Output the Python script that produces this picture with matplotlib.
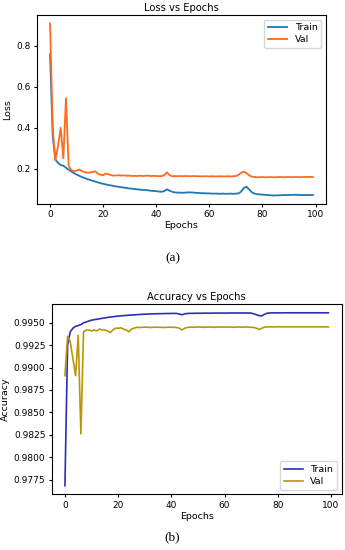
import matplotlib
matplotlib.use("Agg")
import matplotlib.pyplot as plt

# per-epoch values
epochs = list(range(100))

train_loss = [
    0.760, 0.360, 0.245, 0.228, 0.218, 0.214, 0.205, 0.195, 0.186, 0.178,
    0.171, 0.165, 0.159, 0.154, 0.149, 0.145, 0.141, 0.137, 0.133, 0.129,
    0.126, 0.123, 0.120, 0.118, 0.115, 0.113, 0.111, 0.109, 0.107, 0.105,
    0.103, 0.102, 0.100, 0.099, 0.097, 0.096, 0.095, 0.094, 0.092, 0.091,
    0.090, 0.088, 0.087, 0.090, 0.099, 0.092, 0.087, 0.084, 0.083, 0.083,
    0.082, 0.083, 0.084, 0.084, 0.083, 0.082, 0.081, 0.080, 0.080, 0.079,
    0.079, 0.078, 0.078, 0.078, 0.077, 0.078, 0.077, 0.077, 0.078, 0.077,
    0.078, 0.079, 0.088, 0.106, 0.112, 0.098, 0.085, 0.078, 0.075, 0.074,
    0.073, 0.072, 0.071, 0.070, 0.069, 0.069, 0.070, 0.070, 0.071, 0.071,
    0.071, 0.072, 0.072, 0.072, 0.071, 0.071, 0.071, 0.071, 0.071, 0.071,
]
val_loss = [
    0.910, 0.400, 0.240, 0.310, 0.400, 0.250, 0.545, 0.215, 0.192, 0.188,
    0.190, 0.196, 0.188, 0.183, 0.180, 0.181, 0.184, 0.187, 0.176, 0.170,
    0.168, 0.176, 0.173, 0.168, 0.166, 0.167, 0.168, 0.166, 0.167, 0.165,
    0.166, 0.164, 0.165, 0.164, 0.166, 0.164, 0.165, 0.166, 0.164, 0.165,
    0.164, 0.163, 0.164, 0.168, 0.182, 0.168, 0.163, 0.164, 0.163, 0.164,
    0.163, 0.164, 0.163, 0.163, 0.164, 0.163, 0.163, 0.162, 0.163, 0.163,
    0.162, 0.163, 0.162, 0.162, 0.163, 0.162, 0.162, 0.163, 0.162, 0.163,
    0.164, 0.170, 0.180, 0.185, 0.178, 0.167, 0.161, 0.159, 0.158, 0.158,
    0.159, 0.158, 0.158, 0.159, 0.158, 0.158, 0.159, 0.159, 0.158, 0.159,
    0.159, 0.158, 0.159, 0.159, 0.158, 0.159, 0.159, 0.159, 0.160, 0.159,
]

train_acc = [
    0.97680, 0.99250, 0.99400, 0.99440, 0.99460, 0.99470, 0.99480, 0.99500, 0.99510, 0.99520,
    0.99530, 0.99535, 0.99540, 0.99545, 0.99550, 0.99555, 0.99560, 0.99564, 0.99568, 0.99572,
    0.99575, 0.99578, 0.99580, 0.99583, 0.99585, 0.99587, 0.99589, 0.99591, 0.99593, 0.99595,
    0.99596, 0.99598, 0.99599, 0.99600, 0.99601, 0.99602, 0.99602, 0.99603, 0.99604, 0.99604,
    0.99605, 0.99605, 0.99605, 0.99598, 0.99590, 0.99600, 0.99604, 0.99606, 0.99606, 0.99607,
    0.99607, 0.99607, 0.99608, 0.99608, 0.99608, 0.99608, 0.99609, 0.99609, 0.99609, 0.99609,
    0.99609, 0.99609, 0.99610, 0.99610, 0.99610, 0.99610, 0.99610, 0.99610, 0.99610, 0.99610,
    0.99608, 0.99600, 0.99590, 0.99580, 0.99578, 0.99595, 0.99608, 0.99610, 0.99611, 0.99611,
    0.99611, 0.99611, 0.99611, 0.99612, 0.99612, 0.99612, 0.99612, 0.99612, 0.99612, 0.99612,
    0.99612, 0.99612, 0.99612, 0.99612, 0.99612, 0.99612, 0.99612, 0.99612, 0.99612, 0.99612,
]
val_acc = [
    0.98910, 0.99350, 0.99290, 0.99100, 0.98910, 0.99360, 0.98260, 0.99400, 0.99420, 0.99420,
    0.99410, 0.99420, 0.99410, 0.99430, 0.99420, 0.99420, 0.99410, 0.99390, 0.99420, 0.99440,
    0.99440, 0.99445, 0.99430, 0.99420, 0.99400, 0.99430, 0.99440, 0.99450, 0.99448, 0.99450,
    0.99452, 0.99450, 0.99448, 0.99450, 0.99452, 0.99450, 0.99450, 0.99448, 0.99450, 0.99452,
    0.99450, 0.99450, 0.99448, 0.99440, 0.99420, 0.99440, 0.99448, 0.99452, 0.99450, 0.99452,
    0.99454, 0.99452, 0.99450, 0.99452, 0.99454, 0.99452, 0.99450, 0.99452, 0.99454, 0.99452,
    0.99452, 0.99454, 0.99452, 0.99450, 0.99452, 0.99454, 0.99452, 0.99452, 0.99454, 0.99452,
    0.99450, 0.99448, 0.99440, 0.99425, 0.99440, 0.99452, 0.99455, 0.99455, 0.99454, 0.99455,
    0.99456, 0.99455, 0.99455, 0.99456, 0.99455, 0.99455, 0.99456, 0.99455, 0.99455, 0.99456,
    0.99455, 0.99455, 0.99456, 0.99455, 0.99455, 0.99456, 0.99455, 0.99455, 0.99455, 0.99455,
]

plt.rcParams["font.family"] = "DejaVu Sans"
plt.rcParams["font.size"] = 6.5

fig = plt.figure(figsize=(3.45, 5.5), dpi=100)

# (a) loss
ax1 = fig.add_axes([0.107, 0.629, 0.838, 0.344])
ax1.plot(epochs, train_loss, color="#1f77b4", lw=1.3, label="Train")
ax1.plot(epochs, val_loss, color="#ff6a1c", lw=1.3, label="Val")
ax1.set_title("Loss vs Epochs", fontsize=7.2, pad=3)
ax1.set_xlabel("Epochs", fontsize=6.8, labelpad=1.5)
ax1.set_ylabel("Loss", fontsize=6.8, labelpad=3)
ax1.set_yticks([0.2, 0.4, 0.6, 0.8])
ax1.tick_params(labelsize=6.5, length=2.5, pad=2)
ax1.legend(loc="upper right", fontsize=6.8, handlelength=2.0, borderpad=0.4,
           labelspacing=0.3)

# (b) accuracy
ax2 = fig.add_axes([0.150, 0.101, 0.840, 0.346])
ax2.plot(epochs, train_acc, color="#2e2eb8", lw=1.2, label="Train")
ax2.plot(epochs, val_acc, color="#b8960b", lw=1.2, label="Val")
ax2.set_title("Accuracy vs Epochs", fontsize=7.2, pad=3)
ax2.set_xlabel("Epochs", fontsize=6.8, labelpad=1.5)
ax2.set_ylabel("Accuracy", fontsize=6.8, labelpad=3)
ax2.tick_params(labelsize=6.5, length=2.5, pad=2)
ax2.legend(loc="lower right", fontsize=6.8, handlelength=2.0, borderpad=0.4,
           labelspacing=0.3)

fig.text(0.5, 0.530, "(a)", ha="center", va="center", fontsize=9.5,
         family="Liberation Serif")
fig.text(0.5, 0.024, "(b)", ha="center", va="center", fontsize=9.5,
         family="Liberation Serif")

fig.savefig("out.png", dpi=100)
